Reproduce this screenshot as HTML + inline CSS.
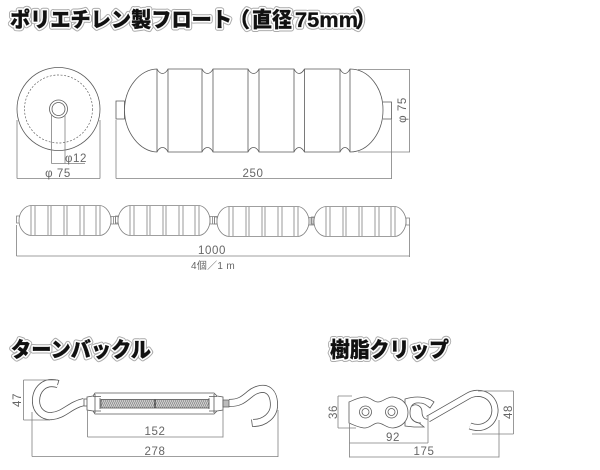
<!DOCTYPE html>
<html><head><meta charset="utf-8">
<style>
html,body{margin:0;padding:0;background:#fff;width:600px;height:470px;overflow:hidden}
svg{display:block}
.t{font-family:"Liberation Sans","Noto Sans CJK JP",sans-serif;font-weight:900;font-size:21px}
.o1{fill:#aaa;stroke:#aaa;stroke-width:5.600;stroke-linejoin:round}
.o2{fill:#fff;stroke:#fff;stroke-width:3.600;stroke-linejoin:round}
.o3{fill:#111;stroke:#111;stroke-width:.3}
.d{font-family:"Liberation Sans","Noto Sans CJK JP",sans-serif;font-size:11.500px;fill:#666;letter-spacing:.6px;text-anchor:middle}
.l{fill:none;stroke:#5a5a5a;stroke-width:.8}
.n{fill:none;stroke:#808080;stroke-width:.8}
.g{fill:none;stroke:#808080;stroke-width:.8}
.f{fill:#fff;stroke:#5a5a5a;stroke-width:.8}
.h{fill:#fff;stroke:#808080;stroke-width:.8}
</style></head>
<body>
<svg width="600" height="470" viewBox="0 0 600 470" xmlns="http://www.w3.org/2000/svg">
<defs>
<pattern id="th" width="2" height="3" patternUnits="userSpaceOnUse" patternTransform="skewX(-25)">
<rect width="2" height="3" fill="#ddd"/><rect width="1" height="3" fill="#888"/>
</pattern>
<g id="ti1">
<text x="10" y="27" textLength="222" lengthAdjust="spacingAndGlyphs">ポリエチレン製フロート</text>
<text x="229" y="27" textLength="21" lengthAdjust="spacingAndGlyphs">（</text>
<text x="252" y="27" textLength="40" lengthAdjust="spacingAndGlyphs">直径</text>
<text x="295" y="27" textLength="63" lengthAdjust="spacingAndGlyphs">75mm</text>
<text x="355" y="27" textLength="21" lengthAdjust="spacingAndGlyphs">）</text>
</g>
<g id="ti2"><text x="11" y="357" textLength="140" lengthAdjust="spacingAndGlyphs">ターンバックル</text></g>
<g id="ti3"><text x="330" y="357" textLength="119" lengthAdjust="spacingAndGlyphs">樹脂クリップ</text></g>
<g id="m">
<path class="n" d="M16.500 216H19.500V223H16.500Z"/>
<path class="h" d="M31 205.500C24 206 19 213 19 220.500C19 228 24 235 31 235.500H100C106 235 111 228 111 220.500C111 213 106 206 100 205.500Z"/>
<path class="n" d="M31 206V235M35 206V235M48 206V235M51 206V235M64 206V235M67 206V235M80 206V235M84 206V235M96 206V235M100 206V235"/>
</g>
</defs>

<!-- titles -->
<g class="t">
<use href="#ti1" class="o1"/><use href="#ti1" class="o2"/><use href="#ti1" class="o3"/>
<use href="#ti2" class="o1"/><use href="#ti2" class="o2"/><use href="#ti2" class="o3"/>
<use href="#ti3" class="o1"/><use href="#ti3" class="o2"/><use href="#ti3" class="o3"/>
</g>

<!-- end view -->
<circle class="l" cx="58.500" cy="109" r="41.500"/>
<circle cx="58.500" cy="109" r="34" fill="none" stroke="#666" stroke-width=".7" stroke-dasharray="2 1.600"/>
<circle class="l" cx="58.500" cy="109" r="9"/>
<circle class="l" cx="58.500" cy="109" r="6.500"/>
<path class="g" d="M51.500 115V163.500M65 115V163.500M51.500 163.500H85"/>
<path class="g" d="M17 120V178.500M100 120V178.500M17 178.500H100"/>
<text class="d" x="76" y="162">φ12</text>
<text class="d" x="58" y="177">φ 75</text>

<!-- side view -->
<path class="l" d="M116 101H124.500V119H116Z"/>
<path class="f" d="M157 69C140 69 124.500 88 124.500 110C124.500 132 140 152 157 152C160 146 165 146 168 152H202C205 146 210 146 213 152H248C251 146 256 146 259 152H294C297 146 301 146 304.500 152H340C343 146 347 146 350 152C369 152 383 132 383 110C383 88 369 69 350 69C347 75 343 75 340 69H304.500C301 75 297 75 294 69H259C256 75 251 75 248 69H213C210 75 205 75 202 69H168C165 75 160 75 157 69Z"/>
<path class="l" d="M157 69V152M168 69V152M202 69V152M213 69V152M248 69V152M259 69V152M294 69V152M304.500 69V152M340 69V152M350 69V152"/>
<path class="l" d="M383 102H391.500V119H383"/>
<path class="g" d="M358 69.500H410M358 152H410M409.500 69.500V152"/>
<path class="g" d="M116 120V178.500M391.500 119V179M116 178.500H391.500"/>
<text class="d" x="253" y="177">250</text>
<text class="d" transform="translate(406,110) rotate(-90)">φ 75</text>

<!-- chain -->
<use href="#m"/>
<path class="n" d="M111 216.500H118V224H111ZM113.500 216.500V224M115.500 216.500V224"/>
<use href="#m" x="99"/>
<path class="n" d="M210 216.500H217V224H210ZM212.500 216.500V224M214.500 216.500V224"/>
<use href="#m" x="198" y="1"/>
<path class="n" d="M309 217.500H314.500V225H309ZM311 217.500V225M313 217.500V225"/>
<use href="#m" x="295" y="1"/>
<path class="n" d="M406 218H409.500V225H406Z"/>
<path class="g" d="M16.500 225V256M409.500 225V257M16.500 256H409.500"/>
<text class="d" x="212" y="254">1000</text>
<text class="d" x="213" y="269" style="font-size:10px;letter-spacing:.3px">4個／1 m</text>

<!-- turnbuckle -->
<path d="M58 384C44 380 36 390 36 401C36 411 44 417 52 416C64 415 70 405 84 402" fill="none" stroke="#555" stroke-width="8"/>
<path d="M58 384C44 380 36 390 36 401C36 411 44 417 52 416C64 415 70 405 84 402" fill="none" stroke="#fff" stroke-width="6.400"/>
<path class="f" d="M84 399H87.500V406H84Z"/>
<path d="M229 403C240 403 244 399 250 394C256 389 262 388.500 265 389C272 391 274 398 274 405C274 415 265 423 253 423" fill="none" stroke="#555" stroke-width="8"/>
<path d="M229 403C240 403 244 399 250 394C256 389 262 388.500 265 389C272 391 274 398 274 405C274 415 265 423 253 423" fill="none" stroke="#fff" stroke-width="6.400"/>
<path class="l" d="M59 380L57.500 385M251.500 419.500L252.500 427"/>
<path class="f" d="M87 397L93 396L95 393H214L217 396L223 397V410L217 411L214 414H95L93 411L87 410Z"/>
<rect x="101" y="399.500" width="108" height="8.500" fill="url(#th)" stroke="#555" stroke-width=".8"/>
<path d="M155 399.500V408" stroke="#333" stroke-width="1.200"/>
<path class="l" d="M95 394V413M100 398V409M209 398V409M214 394V413M93 396.500H101M93 411H101M209 396.500H217M209 411H217"/>
<rect x="223" y="400" width="6" height="7" fill="#bbb" stroke="#555" stroke-width=".7"/>
<path class="g" d="M23.500 380V420M23.500 380H58M23.500 420H50"/>
<text class="d" transform="translate(21,400) rotate(-90)">47</text>
<path class="g" d="M87.500 410V437M223 410V437.500M87.500 437H223"/>
<text class="d" x="155" y="435">152</text>
<path class="g" d="M32 412V456.500M278 410V457M32 456.500H278"/>
<text class="d" x="155" y="455">278</text>

<!-- clip -->
<path d="M428 419L468 396C478 390 494 394 495 410C495 422 484 431 470 426" fill="none" stroke="#555" stroke-width="7"/>
<path d="M428 419L468 396C478 390 494 394 495 410C495 422 484 431 470 426" fill="none" stroke="#fff" stroke-width="5.400"/>
<path class="f" d="M405 399C415 396 426 396 434 402L430 408C426 405 424 403 420 403C412 402 410 407 410 413C410 419 414 422 419 423L424 427H414L405 426Z"/>
<path class="l" d="M412 406C416 403 422 406 422 412C422 417 425 420 428 419M412 419C414 422 418 423 421 423"/>
<path class="f" d="M349 402C354 400 357 398 364 397C371 397 373 402 378 402C383 402 386 397 393 397C402 398 408 404 408 412.500C408 421 402 427 393 428C386 428 383 423 378 423C373 423 371 428 364 428C357 427 354 425 349 423Z"/>
<circle class="l" cx="365.500" cy="412" r="6"/><circle class="l" cx="365.500" cy="412" r="3.500"/>
<circle class="l" cx="391.500" cy="412" r="6"/><circle class="l" cx="391.500" cy="412" r="3.500"/>
<path class="g" d="M338 396H352M338 428H356M338 396V428"/>
<text class="d" transform="translate(337,412) rotate(-90)">36</text>
<path class="g" d="M478 391H513.500M472 434H513.500M513.500 391V434"/>
<text class="d" transform="translate(512,412) rotate(-90)">48</text>
<path class="g" d="M349.500 424V457.500M428 416V443M349.500 443H428"/>
<text class="d" x="393" y="441">92</text>
<path class="g" d="M499 420V457.500M349.500 457H499"/>
<text class="d" x="424" y="455">175</text>
</svg>
</body></html>
